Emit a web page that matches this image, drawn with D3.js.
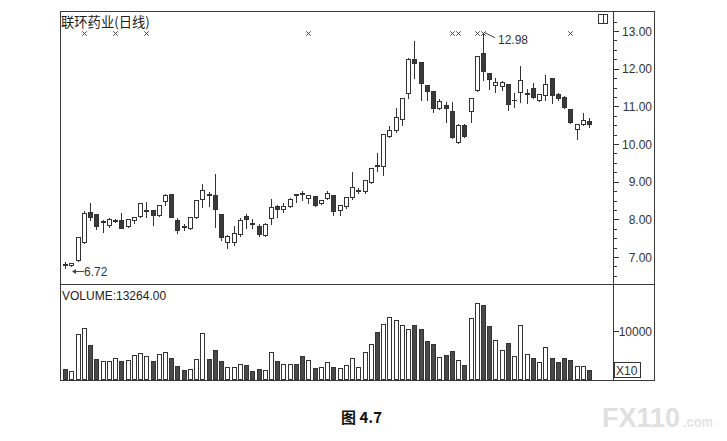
<!DOCTYPE html>
<html><head><meta charset="utf-8">
<script src="https://cdn.jsdelivr.net/npm/d3@7/dist/d3.min.js"></script>
<style>body{margin:0;background:#fff}svg{display:block}</style>
</head><body>
<svg id="c" width="727" height="441"></svg>
<script>
const title = "联环药业(日线)";
const volumeLabel = "VOLUME:13264.00";
const caption = "图 4.7";
const openP  = [6.82,6.80,6.93,7.41,8.20,8.14,7.93,7.85,7.95,7.98,7.81,7.98,8.10,8.22,8.25,8.12,8.50,8.67,7.98,7.81,7.76,8.07,8.53,8.66,8.65,8.14,7.41,7.41,7.60,8.09,7.90,7.83,7.58,8.03,8.36,8.27,8.35,8.66,8.69,8.56,8.62,8.43,8.56,8.65,8.25,8.36,8.58,8.76,8.75,9.00,9.43,9.42,10.21,10.37,10.66,11.35,12.26,12.17,11.57,11.41,10.96,11.04,10.88,10.06,10.50,10.88,11.43,12.41,11.88,11.57,11.55,11.59,11.16,11.37,11.34,11.48,11.16,11.30,11.74,11.33,11.26,10.93,10.40,10.52,10.61];
const highP  = [6.90,6.88,7.55,8.25,8.47,8.16,8.00,8.05,8.03,8.19,8.02,8.09,8.45,8.50,8.27,8.40,8.71,8.69,8.05,7.89,8.09,8.55,8.96,8.76,9.22,8.14,7.60,7.85,8.07,8.16,8.03,7.89,7.92,8.56,8.40,8.47,8.58,8.67,8.78,8.67,8.64,8.53,8.78,8.68,8.40,8.60,9.28,8.87,9.07,9.40,9.78,10.30,10.50,10.99,11.26,12.32,12.76,12.20,11.60,11.44,11.21,11.14,11.14,10.55,10.57,11.26,12.36,12.98,11.90,11.79,11.70,11.62,11.39,12.10,11.48,11.64,11.35,11.85,11.76,11.39,11.30,10.95,10.54,10.84,10.72];
const lowP   = [6.72,6.76,6.90,7.38,7.98,7.74,7.67,7.80,7.93,7.76,7.79,7.89,8.07,8.07,7.85,8.10,8.38,8.05,7.64,7.72,7.74,8.03,8.34,8.35,7.80,7.45,7.23,7.32,7.55,7.76,7.76,7.56,7.55,7.88,8.07,8.20,8.32,8.47,8.51,8.43,8.35,8.40,8.54,8.12,8.12,8.30,8.55,8.69,8.69,8.97,9.27,9.18,10.18,10.33,10.50,11.23,11.76,11.17,11.17,10.86,10.93,10.58,10.15,10.02,10.19,10.59,11.40,11.70,11.46,11.39,11.43,10.90,10.99,11.12,11.08,11.22,11.13,11.17,11.08,11.17,10.96,10.55,10.13,10.50,10.46];
const closeP = [6.80,6.83,7.52,8.18,8.05,7.81,7.95,8.00,7.97,7.78,8.00,8.07,8.43,8.24,8.12,8.38,8.65,8.07,7.72,7.79,8.07,8.51,8.78,8.64,8.27,7.54,7.57,7.65,7.98,8.00,7.88,7.60,7.88,8.34,8.27,8.36,8.53,8.64,8.67,8.65,8.38,8.51,8.71,8.21,8.38,8.58,8.87,8.78,9.04,9.36,9.41,10.26,10.37,10.72,11.23,12.26,12.14,11.61,11.41,10.96,11.15,10.95,10.19,10.50,10.22,11.23,12.34,11.95,11.73,11.64,11.64,11.05,11.18,11.70,11.36,11.26,11.32,11.59,11.30,11.23,10.99,10.58,10.52,10.64,10.52];
const volume = [22200,18000,93000,106900,70800,42300,37500,37500,44400,38900,40300,50700,54100,49300,38900,52700,56200,44400,28500,19400,21500,42300,96500,43000,61800,37500,26400,26400,31900,30500,18000,22200,19400,56200,37500,32600,32600,32600,47900,40900,22900,25000,35400,25700,22900,29100,44400,25000,56900,73600,98600,115200,129100,122100,111700,103400,111700,104800,78400,73600,45800,51400,58300,40900,29100,127700,157500,153400,109700,80500,61800,75000,47900,111700,53400,44400,35400,66600,44400,36100,44400,39600,28500,28500,18700];
const signalIdx = [3,8,13,39,62,63,66,67,81];
const priceTicks = [7,8,9,10,11,12,13];
const priceMinorTicks = d3.range(6.5, 13.3, 0.25);
const volumeTicks = [100000];
const highLabel = "12.98";
const lowLabel = "6.72";

const svg = d3.select("#c");
const LEFT = 60.5, RIGHT = 654.5, AXISX = 613.5, TOP = 11.5, SEP = 284.5, BOTTOM = 380.5;
const ink = "#333", frameC = "#3a3a3a", latin = "'Liberation Sans', Arial, sans-serif", cjk = "'Noto Sans CJK SC', sans-serif";

svg.append("rect").attr("width",727).attr("height",441).attr("fill","#fff");

const n = openP.length;
const x = d3.scaleBand().domain(d3.range(n)).range([62.1, 592.1]);
const cxOf = i => Math.round(x(i) + x.bandwidth()/2);
const y = d3.scaleLinear().domain([7, 13]).range([257, 31]);
const yv = d3.scaleLinear().domain([0, 100000]).range([379.5, 331]);
const py = v => Math.round(y(v)) + 0.5;

// frame
const g = svg.append("g").attr("shape-rendering","crispEdges");
g.append("rect").attr("x",LEFT).attr("y",TOP).attr("width",RIGHT-LEFT).attr("height",BOTTOM-TOP).attr("fill","none").attr("stroke",frameC);
g.append("line").attr("x1",AXISX).attr("x2",AXISX).attr("y1",TOP).attr("y2",BOTTOM).attr("stroke",frameC);
g.append("line").attr("x1",LEFT).attr("x2",RIGHT).attr("y1",SEP).attr("y2",SEP).attr("stroke",frameC);

// price axis
g.selectAll(".mt").data(priceMinorTicks).join("line")
  .attr("x1",AXISX).attr("x2",AXISX+3).attr("y1",d=>py(d)).attr("y2",d=>py(d)).attr("stroke",ink);
g.selectAll(".Mt").data(priceTicks).join("line")
  .attr("x1",AXISX).attr("x2",AXISX+5).attr("y1",d=>py(d)).attr("y2",d=>py(d)).attr("stroke",ink);
svg.selectAll(".pl").data(priceTicks).join("text")
  .attr("x",652).attr("y",d=>y(d)+4.5).attr("text-anchor","end")
  .attr("font-family",latin).attr("font-size",12).attr("fill",ink).text(d=>d.toFixed(2));

// volume axis
g.selectAll(".vt").data(volumeTicks).join("line")
  .attr("x1",AXISX).attr("x2",AXISX+5).attr("y1",d=>Math.round(yv(d))+0.5).attr("y2",d=>Math.round(yv(d))+0.5).attr("stroke",ink);
svg.selectAll(".vl").data(volumeTicks).join("text")
  .attr("x",652).attr("y",d=>yv(d)+4.5).attr("text-anchor","end")
  .attr("font-family",latin).attr("font-size",12).attr("fill",ink).text(d=>String(d/10));
g.append("rect").attr("x",614.5).attr("y",362.5).attr("width",26).attr("height",15).attr("fill","none").attr("stroke",ink);
svg.append("text").attr("x",616).attr("y",375).attr("font-family",latin).attr("font-size",12).attr("fill",ink).text("X10");

// top-right icon
g.append("rect").attr("x",598.5).attr("y",14.5).attr("width",9).attr("height",9).attr("fill","none").attr("stroke",ink);
g.append("line").attr("x1",603.5).attr("x2",603.5).attr("y1",14.5).attr("y2",23.5).attr("stroke",ink);

// title texts
svg.append("text").attr("x",61).attr("y",26.5).attr("font-family",cjk).attr("font-size",13.3).attr("fill","#222").text(title);
svg.append("text").attr("x",62).attr("y",300).attr("font-family",latin).attr("font-size",12).attr("fill","#222").text(volumeLabel);

// candles
const data = d3.range(n).map(i => ({i, o:openP[i], h:highP[i], l:lowP[i], c:closeP[i], v:volume[i], up: closeP[i] >= openP[i]}));
const cg = g.append("g");
data.forEach(d => {
  const cx = cxOf(d.i) + 0.5;
  const top = py(Math.max(d.o,d.c)), bot = py(Math.min(d.o,d.c));
  if (d.up) {
    cg.append("line").attr("x1",cx).attr("x2",cx).attr("y1",py(d.h)).attr("y2",top).attr("stroke",ink);
    cg.append("line").attr("x1",cx).attr("x2",cx).attr("y1",bot).attr("y2",py(d.l)).attr("stroke",ink);
  } else {
    cg.append("line").attr("x1",cx).attr("x2",cx).attr("y1",py(d.h)).attr("y2",py(d.l)).attr("stroke",ink);
  }
  if (bot - top < 1) {
    cg.append("line").attr("x1",cx-2.5).attr("x2",cx+2.5).attr("y1",top).attr("y2",top).attr("stroke",ink);
  } else {
    cg.append("rect").attr("x",cx-2).attr("y",top).attr("width",4).attr("height",bot-top)
      .attr("fill", d.up ? "#fff" : "#3a3a3a").attr("stroke",ink);
  }
});

// volume bars
g.append("g").selectAll("rect").data(data).join("rect")
  .attr("x", d => cxOf(d.i) - 1.5)
  .attr("y", d => Math.round(yv(d.v)) + 0.5)
  .attr("width", 4)
  .attr("height", d => 379.5 - (Math.round(yv(d.v)) + 0.5))
  .attr("fill", d => d.up ? "#fff" : "#4a4a4a")
  .attr("stroke", ink);

// signal markers
const mg = svg.append("g").attr("stroke","#444").attr("stroke-width",1);
signalIdx.forEach(i => {
  const cx = cxOf(i) + 0.5, cy = 33.5;
  mg.append("line").attr("x1",cx-2.2).attr("x2",cx+2.2).attr("y1",cy-2.2).attr("y2",cy+2.2);
  mg.append("line").attr("x1",cx-2.2).attr("x2",cx+2.2).attr("y1",cy+2.2).attr("y2",cy-2.2);
});

// high annotation
const hiI = highP.indexOf(d3.max(highP));
const hx = cxOf(hiI) + 2, hy = y(highP[hiI]);
svg.append("line").attr("x1",hx).attr("y1",hy+1).attr("x2",hx+10).attr("y2",hy+6).attr("stroke","#444");
svg.append("text").attr("x",hx+13).attr("y",hy+12).attr("font-family",latin).attr("font-size",12).attr("fill","#333").text(highLabel);

// low annotation
const loI = lowP.indexOf(d3.min(lowP));
const lx = cxOf(loI+1) + 1, ly = y(lowP[loI]) + 4;
svg.append("line").attr("x1",lx+1).attr("y1",ly).attr("x2",lx+12).attr("y2",ly).attr("stroke","#444");
svg.append("path").attr("d",`M${lx},${ly} l4,-2.5 l0,5 z`).attr("fill","#444");
svg.append("text").attr("x",lx+12).attr("y",ly+4.5).attr("font-family",latin).attr("font-size",12).attr("fill","#333").text(lowLabel);

// caption
svg.append("text").attr("x",341).attr("y",423).attr("font-family",cjk).attr("font-weight","bold").attr("font-size",15).attr("fill","#111").text(caption);

// watermark
svg.append("text").attr("x",602).attr("y",427).attr("font-family",latin).attr("font-weight","bold").attr("font-size",27)
  .attr("textLength",78).attr("lengthAdjust","spacingAndGlyphs").attr("fill","#e0e0e0").text("FX110");
svg.append("text").attr("x",683).attr("y",427).attr("font-family",latin).attr("font-weight","bold").attr("font-size",15)
  .attr("textLength",30).attr("lengthAdjust","spacingAndGlyphs").attr("fill","#e4e4e4").text(".com");
</script>
</body></html>
